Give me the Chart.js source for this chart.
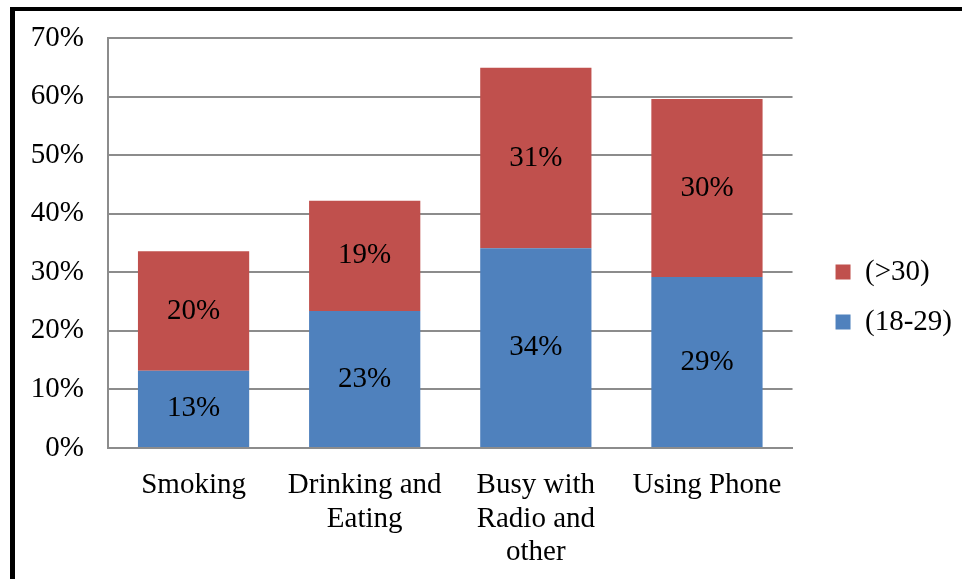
<!DOCTYPE html>
<html>
<head>
<meta charset="utf-8">
<script src="https://cdn.jsdelivr.net/npm/chart.js@4"></script>
<style>
    body { margin: 0; background: #fff; }
    #wrap { position: relative; width: 962px; height: 579px; overflow: hidden; }
    #frameTop { position: absolute; left: 10px; top: 7px; width: 952px; height: 4px; background: #000; }
    #frameLeft { position: absolute; left: 10px; top: 7px; width: 5px; height: 572px; background: #000; }
</style>
</head>
<body>
<div id="wrap">
    <canvas id="distractChart" width="962" height="579"></canvas>
    <div id="frameTop"></div>
    <div id="frameLeft"></div>
</div>
<script>
const categories = [["Smoking"], ["Drinking and", "Eating"], ["Busy with", "Radio and", "other"], ["Using Phone"]];
const young = [13.2, 23.4, 34.1, 29.2];   // (18-29)
const older = [20.4, 18.8, 30.8, 30.4];   // (>30)
const yTicks = [0, 10, 20, 30, 40, 50, 60, 70];

const serif = "'Liberation Serif', 'Times New Roman', serif";

// write the rounded value in the middle of each bar segment
const segmentLabels = {
    id: "segmentLabels",
    afterDatasetsDraw(chart) {
        const ctx = chart.ctx;
        ctx.save();
        ctx.font = "29px " + serif;
        ctx.fillStyle = "#000";
        ctx.textAlign = "center";
        ctx.textBaseline = "middle";
        chart.data.datasets.forEach((ds, i) => {
            chart.getDatasetMeta(i).data.forEach((bar, j) => {
                ctx.fillText(Math.round(ds.data[j]) + "%", bar.x, (bar.y + bar.base) / 2);
            });
        });
        ctx.restore();
    }
};

new Chart(document.getElementById("distractChart").getContext("2d"), {
    type: "bar",
    data: {
        labels: categories,
        datasets: [
            { label: "(18-29)", data: young, backgroundColor: "#4F81BD" },
            { label: "(>30)", data: older, backgroundColor: "#C0504D" }
        ]
    },
    options: {
        responsive: false,
        animation: false,
        layout: { padding: { top: 30, right: 0, bottom: 15, left: 0 } },
        datasets: { bar: { categoryPercentage: 1, barPercentage: 0.65 } },
        scales: {
            x: {
                stacked: true,
                grid: { display: false, drawTicks: false },
                border: { color: "#8c8c8c", width: 2 },
                ticks: { color: "#000", font: { family: serif, size: 29, lineHeight: 1.15 }, padding: 21, maxRotation: 0, autoSkip: false },
                afterFit: s => { s.height = 116; }
            },
            y: {
                stacked: true,
                min: 0,
                max: 70,
                afterBuildTicks: s => { s.ticks = yTicks.map(v => ({ value: v })); },
                grid: { color: "#8c8c8c", lineWidth: 2, drawTicks: false },
                border: { color: "#8c8c8c", width: 2 },
                ticks: { color: "#000", font: { family: serif, size: 29 }, padding: 24, callback: v => v + "%" },
                afterFit: s => { s.width = 108; s.paddingTop = 38; s.paddingBottom = 0; }
            },
            gap: {
                position: "right",
                grid: { display: false, drawTicks: false },
                border: { display: false },
                ticks: { display: false },
                afterFit: s => { s.width = 22; }
            }
        },
        plugins: {
            tooltip: { enabled: false },
            legend: {
                position: "right",
                reverse: true,
                labels: {
                    color: "#000",
                    font: { family: serif, size: 29 },
                    boxWidth: 15,
                    boxHeight: 15,
                    padding: 21
                }
            }
        }
    },
    plugins: [segmentLabels]
});
</script>
</body>
</html>
